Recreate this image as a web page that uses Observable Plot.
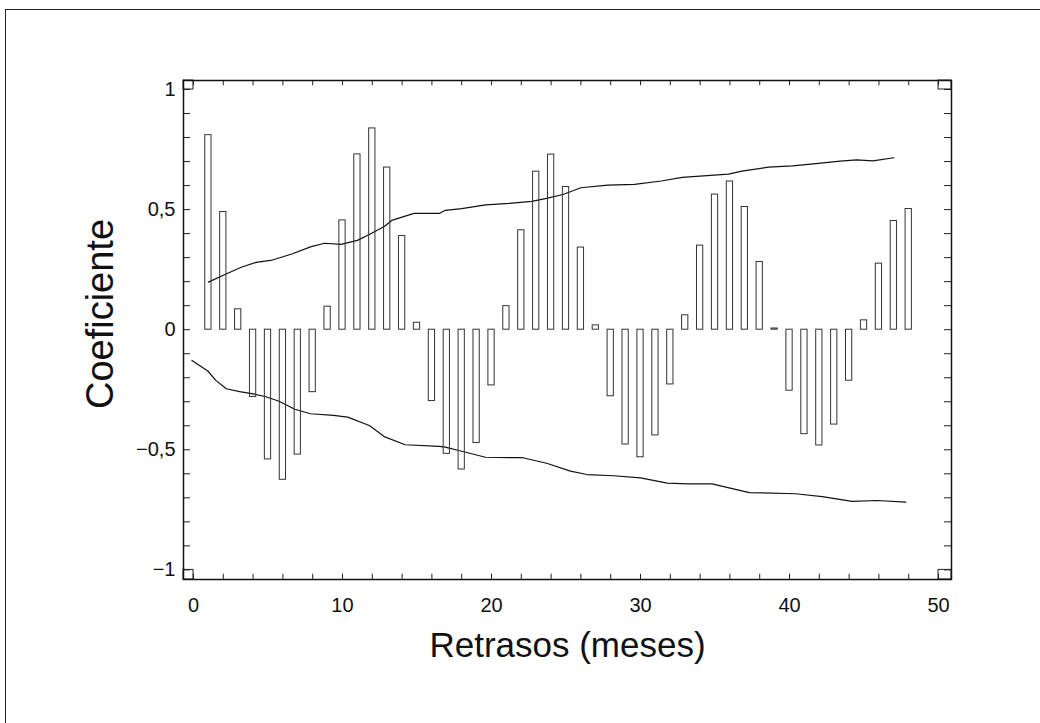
<!DOCTYPE html>
<html>
<head>
<meta charset="utf-8">
<script src="https://cdn.jsdelivr.net/npm/d3@7"></script>
<script src="https://cdn.jsdelivr.net/npm/@observablehq/plot@0.6"></script>
<style>
  html, body { margin: 0; padding: 0; background: #fff; }
  #wrap { position: relative; width: 1040px; height: 723px; overflow: hidden; }
  #border { position: absolute; left: 5px; top: 9px; width: 1040px; height: 720px;
            border-top: 1.5px solid #222; border-left: 1.5px solid #222; pointer-events: none; }
  svg { font-family: "Liberation Sans", Arial, Helvetica, sans-serif; }
</style>
</head>
<body>
<div id="wrap"><div id="border"></div></div>
<script>
// Lags (months) and autocorrelation coefficients
const lags = [1,2,3,4,5,6,7,8,9,10,11,12,13,14,15,16,17,18,19,20,21,22,23,24,25,26,27,28,29,30,31,32,33,34,35,36,37,38,39,40,41,42,43,44,45,46,47,48];
const acf = [0.81,0.49,0.085,-0.28,-0.54,-0.625,-0.52,-0.26,0.096,0.455,0.73,0.838,0.675,0.39,0.029,-0.297,-0.517,-0.582,-0.472,-0.232,0.098,0.414,0.658,0.729,0.594,0.342,0.018,-0.277,-0.478,-0.531,-0.44,-0.228,0.06,0.35,0.5625,0.617,0.511,0.282,0.005,-0.254,-0.435,-0.482,-0.395,-0.2125,0.039,0.275,0.4525,0.5025];

// Upper confidence band
const upperLag = [1,2.3,3.2,4.2,5.3,6.6,7.9,8.8,9.9,11,11.8,12.8,13.3,14.8,16.5,16.9,18,19.6,21.2,22.7,23.7,24.8,26,27.8,29.6,31.4,32.8,35.9,36.8,38.6,40.2,41.6,43.4,44.5,45.6,47];
const upperVal = [0.198,0.235,0.26,0.28,0.29,0.315,0.346,0.36,0.355,0.372,0.396,0.43,0.455,0.484,0.484,0.497,0.504,0.52,0.526,0.534,0.547,0.563,0.591,0.602,0.605,0.619,0.634,0.648,0.66,0.677,0.682,0.69,0.702,0.707,0.703,0.716];

// Lower confidence band
const lowerLag = [-0.1,0.96,1.5,2.2,3.1,4.0,4.8,5.7,6.8,7.85,9.4,10.35,11.8,12.8,14.2,16.5,16.9,17.8,19.6,22.1,23.7,25.3,26.4,28.2,30.0,31.8,33.2,34.8,37.3,40.4,42.2,44.2,45.9,47.8];
const lowerVal = [-0.128,-0.172,-0.211,-0.246,-0.258,-0.267,-0.278,-0.297,-0.331,-0.35,-0.357,-0.364,-0.399,-0.445,-0.479,-0.486,-0.489,-0.503,-0.531,-0.533,-0.556,-0.589,-0.603,-0.608,-0.617,-0.639,-0.642,-0.642,-0.678,-0.683,-0.695,-0.715,-0.711,-0.718];

// Axis ticks
const xTicks = [0,10,20,30,40,50];
const xMinorTicks = [0,2,4,6,8,10,12,14,16,18,20,22,24,26,28,30,32,34,36,38,40,42,44,46,48,50];
const yTicks = [-1,-0.5,0,0.5,1];
const yMinorTicks = [-1,-0.9,-0.8,-0.7,-0.6,-0.5,-0.4,-0.3,-0.2,-0.1,0,0.1,0.2,0.3,0.4,0.5,0.6,0.7,0.8,0.9,1];

const xDomain = [-0.67, 50.87];
const yDomain = [-1.04, 1.0375];
const xTickLen = 0.47;   // inward tick length along x (data units)
const yTickLen = 0.022;  // inward tick length along y (data units)

const bars = lags.map((l, i) => ({lag: l, v: acf[i]}));
const upper = upperLag.map((l, i) => ({lag: l, v: upperVal[i]}));
const lower = lowerLag.map((l, i) => ({lag: l, v: lowerVal[i]}));
const corners = [
  {x1: xDomain[0], x2: xTicks[0], y1: yTicks[0], y2: yDomain[0]},
  {x1: xDomain[0], x2: xTicks[0], y1: yTicks[yTicks.length-1], y2: yDomain[1]},
  {x1: xTicks[xTicks.length-1], x2: xDomain[1], y1: yTicks[0], y2: yDomain[0]},
  {x1: xTicks[xTicks.length-1], x2: xDomain[1], y1: yTicks[yTicks.length-1], y2: yDomain[1]}
];

const fmt = d => d === 0 ? "0" : String(d).replace(".", ",").replace("-", "\u2212");
const half = 0.21;
const ink = "#222";

const chart = Plot.plot({
  width: 1040,
  height: 723,
  marginLeft: 183,
  marginRight: 89,
  marginTop: 80,
  marginBottom: 144,
  style: {fontFamily: '"Liberation Sans", Arial, Helvetica, sans-serif', color: "#111", background: "transparent"},
  x: {domain: xDomain, axis: null},
  y: {domain: yDomain, axis: null},
  marks: [
    Plot.rect(corners, {x1: "x1", x2: "x2", y1: "y1", y2: "y2", fill: "none", stroke: ink, strokeWidth: 1}),
    // inward minor ticks on all four sides
    Plot.ruleY(yMinorTicks, {y: d => d, x1: xDomain[0], x2: xDomain[0] + xTickLen, stroke: ink, strokeWidth: 1}),
    Plot.ruleY(yMinorTicks, {y: d => d, x1: xDomain[1] - xTickLen, x2: xDomain[1], stroke: ink, strokeWidth: 1}),
    Plot.ruleX(xMinorTicks, {x: d => d, y1: yDomain[0], y2: yDomain[0] + yTickLen, stroke: ink, strokeWidth: 1}),
    Plot.ruleX(xMinorTicks, {x: d => d, y1: yDomain[1] - yTickLen, y2: yDomain[1], stroke: ink, strokeWidth: 1}),
    // tick labels
    Plot.axisY(yTicks, {anchor: "left", tickSize: 0, tickPadding: 8, tickFormat: fmt, label: null, fontSize: 20, fill: "#111"}),
    Plot.axisX(xTicks, {anchor: "bottom", tickSize: 0, tickPadding: 18, tickFormat: d => String(d), label: null, fontSize: 20, fill: "#111"}),
    // confidence bands
    Plot.line(upper, {x: "lag", y: "v", stroke: "#111", strokeWidth: 1.2}),
    Plot.line(lower, {x: "lag", y: "v", stroke: "#111", strokeWidth: 1.2}),
    // autocorrelation bars (open rectangles)
    Plot.rect(bars, {x1: d => d.lag - half, x2: d => d.lag + half, y1: 0, y2: "v", fill: "none", stroke: "#333", strokeWidth: 1}),
    Plot.frame({stroke: "#111", strokeWidth: 1.5}),
    // axis titles
    Plot.text(["Coeficiente"], {frameAnchor: "left", textAnchor: "middle", lineAnchor: "middle", rotate: -90, dx: -83, dy: -16, fontSize: 38, fill: "#111"}),
    Plot.text(["Retrasos (meses)"], {frameAnchor: "bottom", textAnchor: "middle", lineAnchor: "middle", dy: 66, fontSize: 35, fill: "#111"})
  ]
});
document.getElementById("wrap").appendChild(chart);
chart.style.position = "absolute";
chart.style.left = "0px";
chart.style.top = "0px";
</script>
</body>
</html>
